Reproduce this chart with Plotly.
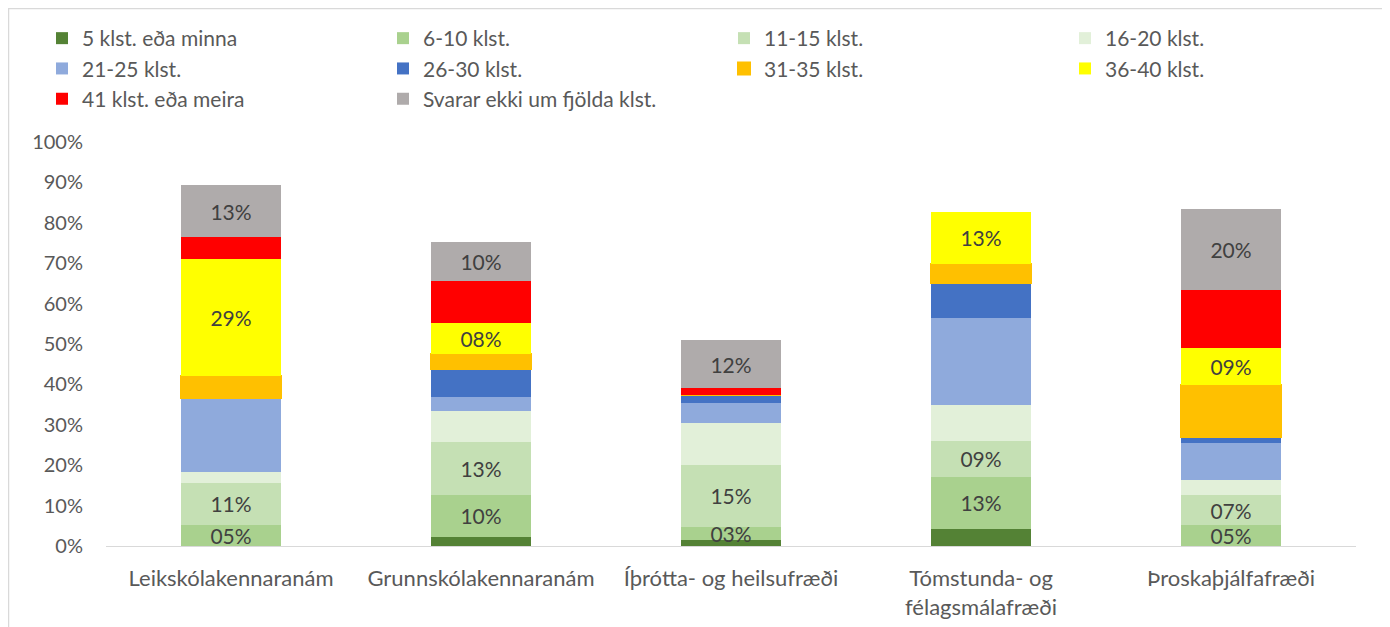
import plotly.graph_objects as go

categories = ["Leikskólakennaranám", "Grunnskólakennaranám", "Íþrótta- og heilsufræði",
              "Tómstunda- og<br>félagsmálafræði", "Þroskaþjálfafræði"]

series_names = ["5 klst. eða minna", "6-10 klst.", "11-15 klst.", "16-20 klst.",
                "21-25 klst.", "26-30 klst.", "31-35 klst.", "36-40 klst.",
                "41 klst. eða meira", "Svarar ekki um fjölda klst."]

v_5 = [0.0, 2.3, 1.5, 4.2, 0.0]
v_6_10 = [5.1, 10.4, 3.3, 12.9, 5.2]
v_11_15 = [10.6, 13.0, 15.3, 9.0, 7.4]
v_16_20 = [2.6, 7.8, 10.4, 8.7, 3.7]
v_21_25 = [18.3, 3.5, 5.0, 21.7, 9.1]
v_26_30 = [0.0, 6.9, 1.9, 8.5, 1.6]
v_31_35 = [5.6, 3.6, 0.0, 4.8, 12.9]
v_36_40 = [28.9, 7.7, 0.0, 12.9, 9.0]
v_41 = [5.3, 10.3, 1.6, 0.0, 14.4]
v_svarar = [13.0, 9.7, 11.9, 0.0, 20.2]

colors = ["#548235", "#A9D18E", "#C5E0B4", "#E2F0D9", "#8FAADC",
          "#4472C4", "#FFC000", "#FFFF00", "#FF0000", "#AFABAB"]
labeled = [False, True, True, False, False, False, False, True, False, True]

all_vals = [v_5, v_6_10, v_11_15, v_16_20, v_21_25, v_26_30, v_31_35, v_36_40, v_41, v_svarar]

FONT = "Lato"
# the page puts the figure 8px in from the top-left corner
W, H = 1382, 619
L, T, PW, PH = 98, 134, 1250, 404

legend_ids = ["legend", "legend2", "legend3", "legend4"]

fig = go.Figure()
for i, (name, vals, col, lab) in enumerate(zip(series_names, all_vals, colors, labeled)):
    text = [f"{round(v):02d}%" if (lab and v > 0) else "" for v in vals]
    lw = 2 if col == "#FFC000" else 0
    fig.add_trace(go.Bar(
        name=name, x=categories, y=vals, marker=dict(color=col, line=dict(color=col, width=lw)),
        text=text, textposition="inside", insidetextanchor="middle", constraintext="none",
        textfont=dict(family=FONT, size=21, color="#404040"), hoverinfo="skip",
        legend=legend_ids[i % 4],
    ))

leg_common = dict(orientation="v", xanchor="left", yanchor="top", yref="paper",
                  y=1 + (T - 10) / PH, traceorder="normal", tracegroupgap=0,
                  font=dict(family=FONT, size=21, color="#595959"),
                  bgcolor="rgba(0,0,0,0)", borderwidth=0)
col_left = [34, 375, 716, 1057]

fig.update_layout(
    barmode="stack", bargap=0.6,
    width=W, height=H,
    margin=dict(l=L, r=W - L - PW, t=T, b=H - T - PH, autoexpand=False),
    paper_bgcolor="white", plot_bgcolor="white",
    font=dict(family=FONT, size=21, color="#595959"),
    showlegend=True,
    legend=dict(x=(col_left[0] - L) / PW, **leg_common),
    legend2=dict(x=(col_left[1] - L) / PW, **leg_common),
    legend3=dict(x=(col_left[2] - L) / PW, **leg_common),
    legend4=dict(x=(col_left[3] - L) / PW, **leg_common),
    xaxis=dict(showline=True, linecolor="#D9D9D9", linewidth=1, showgrid=False, automargin=False,
               tickfont=dict(family=FONT, size=22, color="#595959"), ticklabelstandoff=13),
    yaxis=dict(range=[0, 100], dtick=10, ticksuffix="%", showgrid=False, zeroline=False,
               showline=False, automargin=False,
               tickfont=dict(family=FONT, size=20, color="#595959"),
               ticklabelstandoff=22),
    shapes=[dict(type="rect", xref="paper", yref="paper",
                 x0=(0.5 - L) / PW, x1=(1377 - L) / PW,
                 y0=(T + PH - 640) / PH, y1=(T + PH - 0.5) / PH,
                 line=dict(color="#D9D9D9", width=1.5), fillcolor="rgba(0,0,0,0)", layer="below")],
)
fig.write_html("out.html")
